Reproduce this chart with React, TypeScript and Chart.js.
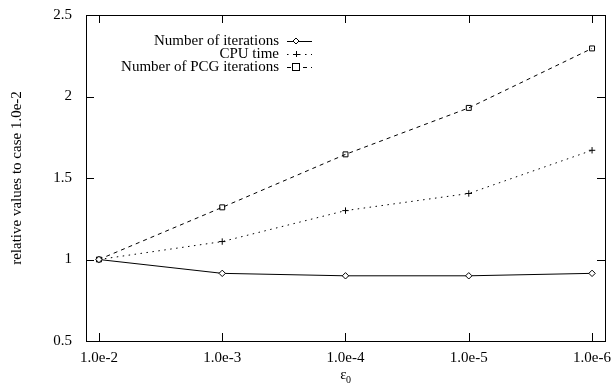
import React, { useEffect, useRef } from "react";
import { Chart, registerables } from "chart.js";

Chart.register(...registerables);

const categories = ["1.0e-2", "1.0e-3", "1.0e-4", "1.0e-5", "1.0e-6"];
const iterations = [1.0, 0.915, 0.9, 0.9, 0.915];
const cpuTime = [1.0, 1.11, 1.3, 1.405, 1.67];
const pcgIterations = [1.0, 1.32, 1.645, 1.93, 2.295];
const yTicks = [0.5, 1, 1.5, 2, 2.5];
const yTickLabels = ["0.5", "1", "1.5", "2", "2.5"];

const FONT = "'Liberation Serif', 'Times New Roman', serif";
const FS = 15;

const seriesNames = ["Number of iterations", "CPU time", "Number of PCG iterations"];

const toPoints = (vals: number[]) => vals.map((v, i) => ({ x: i, y: v }));

// gnuplot-style frame: border, inward ticks on all four sides, legend and titles
const framePlugin = {
  id: "frame",
  afterDraw(chart: any) {
    const { ctx, chartArea: a, scales } = chart;
    const xs = scales.x;
    const ys = scales.y;
    ctx.save();
    ctx.strokeStyle = "#000";
    ctx.lineWidth = 1;
    ctx.setLineDash([]);
    ctx.strokeRect(Math.round(a.left) + 0.5, Math.round(a.top) + 0.5, Math.round(a.right - a.left), Math.round(a.bottom - a.top));
    const tl = 8;
    ctx.beginPath();
    categories.forEach((_, i) => {
      const px = Math.round(xs.getPixelForValue(i)) + 0.5;
      ctx.moveTo(px, a.bottom);
      ctx.lineTo(px, a.bottom - tl);
      ctx.moveTo(px, a.top);
      ctx.lineTo(px, a.top + tl);
    });
    yTicks.forEach((t) => {
      const py = Math.round(ys.getPixelForValue(t)) + 0.5;
      ctx.moveTo(a.left, py);
      ctx.lineTo(a.left + tl, py);
      ctx.moveTo(a.right, py);
      ctx.lineTo(a.right - tl, py);
    });
    ctx.stroke();

    // axis titles
    ctx.fillStyle = "#000";
    ctx.font = `${FS}px ${FONT}`;
    ctx.textAlign = "center";
    ctx.textBaseline = "middle";
    ctx.save();
    ctx.translate(17, (a.top + a.bottom) / 2);
    ctx.rotate(-Math.PI / 2);
    ctx.fillText("relative values to case 1.0e-2", 0, 0);
    ctx.restore();
    const cx = (a.left + a.right) / 2;
    ctx.fillText("ε", cx - 2, 375);
    ctx.font = `10px ${FONT}`;
    ctx.fillText("0", cx + 3, 380);

    // legend
    const rows = [41, 54, 67];
    const dashes = [[], [1.5, 4.5], [4, 4]];
    ctx.font = `${FS}px ${FONT}`;
    ctx.textAlign = "right";
    rows.forEach((ry, i) => {
      ctx.setLineDash([]);
      ctx.fillText(seriesNames[i], 279, ry);
      ctx.beginPath();
      ctx.setLineDash(dashes[i]);
      ctx.moveTo(287, ry + 0.5);
      ctx.lineTo(312, ry + 0.5);
      ctx.stroke();
      ctx.setLineDash([]);
      const mx = 296;
      ctx.beginPath();
      if (i === 0) {
        ctx.moveTo(mx, ry - 3);
        ctx.lineTo(mx + 3, ry);
        ctx.lineTo(mx, ry + 3);
        ctx.lineTo(mx - 3, ry);
        ctx.closePath();
        ctx.fillStyle = "#fff";
        ctx.fill();
        ctx.stroke();
      } else if (i === 1) {
        ctx.moveTo(mx - 3, ry + 0.5);
        ctx.lineTo(mx + 3, ry + 0.5);
        ctx.moveTo(mx + 0.5, ry - 3);
        ctx.lineTo(mx + 0.5, ry + 3);
        ctx.stroke();
      } else {
        ctx.fillStyle = "#fff";
        ctx.fillRect(mx - 3.5, ry - 3.5, 7, 7);
        ctx.strokeRect(mx - 3.5, ry - 3.5, 7, 7);
      }
      ctx.fillStyle = "#000";
    });
    ctx.restore();
  },
};

export default function App() {
  const ref = useRef<HTMLCanvasElement | null>(null);
  useEffect(() => {
    document.body.style.margin = "0";
    const canvas = ref.current;
    if (!canvas) return;
    const chart = new Chart(canvas, {
      type: "line",
      data: {
        datasets: [
          {
            label: seriesNames[0],
            data: toPoints(iterations),
            borderColor: "#000",
            borderWidth: 1,
            pointStyle: "rectRot",
            pointRadius: 3.2,
            pointBackgroundColor: "#fff",
            pointBorderColor: "#000",
            pointBorderWidth: 1,
          },
          {
            label: seriesNames[1],
            data: toPoints(cpuTime),
            borderColor: "#000",
            borderWidth: 1,
            borderDash: [1.5, 4.5],
            pointStyle: "cross",
            pointRadius: 3.2,
            pointBorderColor: "#000",
            pointBorderWidth: 1,
          },
          {
            label: seriesNames[2],
            data: toPoints(pcgIterations),
            borderColor: "#000",
            borderWidth: 1,
            borderDash: [4, 4],
            pointStyle: "rect",
            pointRadius: 3.5,
            pointBackgroundColor: "rgba(255,255,255,0)",
            pointBorderColor: "#000",
            pointBorderWidth: 1,
          },
        ],
      },
      options: {
        animation: false,
        responsive: false,
        layout: { padding: { top: 14, right: 7, left: 0, bottom: 0 } },
        plugins: { legend: { display: false }, tooltip: { enabled: false } },
        scales: {
          x: {
            type: "linear",
            min: -0.105,
            max: 4.105,
            grid: { display: false },
            border: { display: false },
            afterBuildTicks: (s: any) => {
              s.ticks = categories.map((_, i) => ({ value: i }));
            },
            afterFit: (s: any) => {
              s.height = 44;
            },
            ticks: {
              color: "#000",
              font: { family: FONT, size: FS },
              padding: 0,
              maxRotation: 0,
              autoSkip: false,
              callback: (v: any) => categories[Math.round(Number(v))] ?? "",
            },
          },
          y: {
            type: "linear",
            min: 0.5,
            max: 2.5,
            grid: { display: false },
            border: { display: false },
            afterBuildTicks: (s: any) => {
              s.ticks = yTicks.map((v) => ({ value: v }));
            },
            afterFit: (s: any) => {
              s.width = 86;
            },
            ticks: {
              color: "#000",
              font: { family: FONT, size: FS },
              padding: 6,
              callback: (v: any) => {
                const i = yTicks.indexOf(Number(v));
                return i >= 0 ? yTickLabels[i] : "";
              },
            },
          },
        },
      },
      plugins: [framePlugin],
    });
    return () => chart.destroy();
  }, []);
  return (
    <div style={{ width: 612, height: 385 }}>
      <canvas ref={ref} width={612} height={385} style={{ width: 612, height: 385, display: "block" }} />
    </div>
  );
}
